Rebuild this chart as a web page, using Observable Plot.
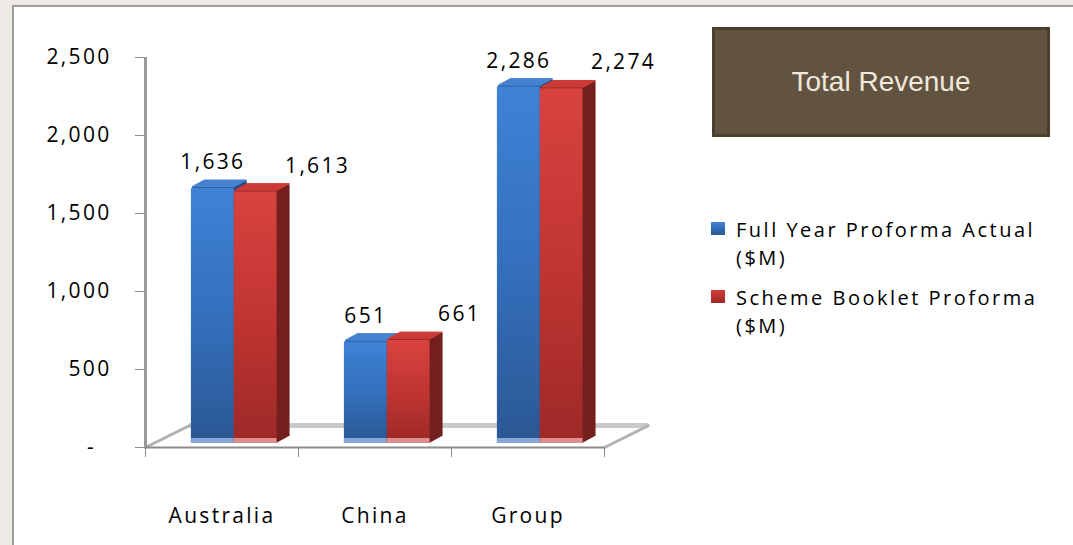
<!DOCTYPE html>
<html>
<head>
<meta charset="utf-8">
<script src="https://cdn.jsdelivr.net/npm/d3@7"></script>
<script src="https://cdn.jsdelivr.net/npm/@observablehq/plot@0.6"></script>
<style>
  html, body { margin: 0; padding: 0; width: 1073px; height: 545px; overflow: hidden; background: #eeeae6; }
  #panel { position: absolute; left: 12px; top: 5px; width: 1080px; height: 560px; background: #fff; border: 2px solid #a0a0a0; box-sizing: border-box; }
  #chart { position: absolute; left: 0; top: 0; }
  #chart svg text { letter-spacing: 2.3px; }
  #title { position: absolute; left: 712px; top: 27px; width: 338px; height: 110px; box-sizing: border-box;
           background: #615340; border: 3px solid #4a3e2e; color: #efe8dc;
           font-family: "Liberation Sans", Arial, sans-serif; font-size: 28px;
           display: flex; align-items: center; justify-content: center; }
  .leg { position: absolute; left: 736px; font-family: "Open Sans", sans-serif; font-size: 20px; line-height: 20px;
         letter-spacing: 2.5px; color: #000; white-space: nowrap; }
  .sw { position: absolute; left: 711px; width: 14px; height: 13px; }
</style>
</head>
<body>
<div id="panel"></div>
<div id="chart"></div>
<div id="title">Total Revenue</div>
<div id="legend"></div>
<script>
// ---- data ----
const categories = ["Australia", "China", "Group"];
const seriesNames = ["Full Year Proforma Actual ($M)", "Scheme Booklet Proforma ($M)"];
const fullYearActual = [1636, 651, 2286];
const schemeBooklet = [1613, 661, 2274];
const yTicks = [0, 500, 1000, 1500, 2000, 2500];

// ---- styling ----
const palettes = [
  {top: "#4683d2", side: "#28497a", refl: "#86a9da", g0: "#3f82d6", g1: "#3470bd", g2: "#2b5793"},
  {top: "#cc3c38", side: "#74201f", refl: "#dc8f8d", g0: "#d8433f", g1: "#c13532", g2: "#9d2927"}
];

const rows = categories.flatMap((c, i) => [
  {cat: c, i, s: 0, v: fullYearActual[i]},
  {cat: c, i, s: 1, v: schemeBooklet[i]}
]);

const barStart = 0.30, barW = 0.28;
const bx1 = d => d.i + barStart + d.s * barW;
const bx2 = d => bx1(d) + barW;
const zero = () => 0;
const val = d => d.v;

function barLayers(s) {
  const pal = palettes[s];
  const data = rows.filter(d => d.s === s);
  const n = 12, DX = 13, DY = -7, base = -4;
  const out = [];
  for (let k = n; k >= 1; k--) {
    out.push(Plot.rect(data, {x1: bx1, x2: bx2, y1: zero, y2: val, fill: pal.side, dx: DX * k / n, dy: base + DY * k / n}));
  }
  for (let k = 1; k <= n; k++) {
    out.push(Plot.rect(data, {x1: bx1, x2: bx2, y1: val, y2: val, insetTop: -1.3, fill: pal.top, dx: DX * k / n, dy: base + DY * k / n}));
  }
  out.push(Plot.rect(data, {x1: bx1, x2: bx2, y1: zero, y2: val, fill: `url(#front${s})`, dy: base}));
  out.push(Plot.rect(data, {x1: bx1, x2: bx2, y1: zero, y2: zero, insetTop: -5, fill: pal.refl, dy: base}));
  return out;
}

const lineShape = {draw(context, l) { context.moveTo(0, 0); context.lineTo(0, -l); }};

const chart = Plot.plot({
  width: 700,
  height: 545,
  marginLeft: 145,
  marginRight: 96,
  marginTop: 57,
  marginBottom: 98,
  style: {background: "transparent", fontFamily: "'Open Sans', sans-serif", fontSize: "21px", color: "#000"},
  x: {domain: [0, 3], axis: null},
  y: {domain: [0, 2500], axis: null},
  marks: [
    // floor
    Plot.ruleY([0], {dx: 44, dy: -22, stroke: "#c9c9c9", strokeWidth: 5}),
    Plot.vector([0, 3], {x: d => d, y: zero, anchor: "start", length: 49, rotate: 63.4, shape: lineShape, stroke: "#b3b3b3", strokeWidth: 3}),
    Plot.ruleY([0], {stroke: "#8c8c8c", strokeWidth: 2}),
    // axes
    Plot.ruleX([0], {y1: 0, y2: 2500, stroke: "#9a9a9a", strokeWidth: 3}),
    Plot.axisY({ticks: yTicks, tickSize: 10, tickPadding: 24, stroke: "#8c8c8c",
      tickFormat: d => d === 0 ? "-\u00a0\u00a0" : d3.format(",")(d)}),
    Plot.axisX({ticks: [0, 1, 2, 3], tickSize: 10, tickFormat: () => "", stroke: "#8c8c8c"}),
    Plot.axisX({ticks: [0.5, 1.5, 2.5], tickSize: 0, tickPadding: 61,
      tickFormat: t => categories[Math.floor(t)]}),
    // bars
    ...barLayers(0),
    ...barLayers(1),
    // data labels
    Plot.text(rows.filter(d => d.s === 0), {x: d => (bx1(d) + bx2(d)) / 2, y: val, text: d => d3.format(",")(d.v), dy: -30, fill: "#000"}),
    Plot.text(rows.filter(d => d.s === 1), {x: bx2, y: val, text: d => d3.format(",")(d.v), dx: 8, dy: -30, textAnchor: "start", fill: "#000"})
  ]
});

// gradients for bar fronts
const ns = "http://www.w3.org/2000/svg";
const defs = document.createElementNS(ns, "defs");
defs.innerHTML = palettes.map((p, s) =>
  `<linearGradient id="front${s}" x1="0" y1="0" x2="0" y2="1">
     <stop offset="0" stop-color="${p.g0}"/>
     <stop offset="0.5" stop-color="${p.g1}"/>
     <stop offset="1" stop-color="${p.g2}"/>
   </linearGradient>`).join("");
chart.prepend(defs);
document.getElementById("chart").appendChild(chart);

// legend (HTML), one div per text line
const legend = document.getElementById("legend");
const legendBaselines = [237, 305];
seriesNames.forEach((name, s) => {
  const p = palettes[s];
  const sw = document.createElement("div");
  sw.className = "sw";
  sw.style.top = (legendBaselines[s] - 15) + "px";
  sw.style.background = `linear-gradient(${p.top}, ${p.g1} 40%, ${p.g2})`;
  legend.appendChild(sw);
  const idx = name.indexOf(" (");
  [name.slice(0, idx), name.slice(idx + 1)].forEach((line, j) => {
    const t = document.createElement("div");
    t.className = "leg";
    t.style.top = (legendBaselines[s] - 17 + j * 28) + "px";
    t.textContent = line;
    legend.appendChild(t);
  });
});
</script>
</body>
</html>
